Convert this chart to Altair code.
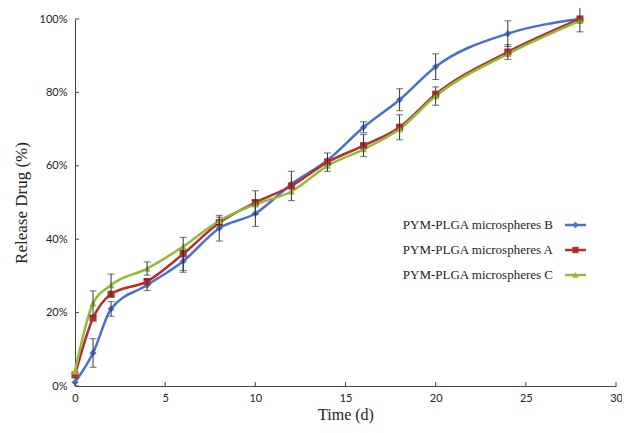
import altair as alt
import pandas as pd

time = [0, 1, 2, 4, 6, 8, 10, 12, 14, 16, 18, 20, 24, 28]
series_names = ["PYM-PLGA microspheres B", "PYM-PLGA microspheres A", "PYM-PLGA microspheres C"]
values_B = [1, 9, 21, 27.5, 34, 43, 47, 55, 61.5, 70.5, 78, 87, 96, 100]
values_A = [3, 18.5, 25, 28.5, 36, 44.5, 50, 54.5, 61, 65.5, 70.5, 79.5, 91, 100]
values_C = [4, 22.5, 27.5, 32, 38, 45, 49.5, 53, 60, 64.5, 70, 79, 90.5, 99.5]
err_B = [0, 3.9, 2, 1.5, 3, 3.5, 3.5, 0, 0, 1.5, 3, 3.5, 3.5, 0]
err_A = [0, 0, 0, 0, 4.5, 0, 3.2, 4, 2.5, 3, 3.4, 0, 2, 3.5]
err_C = [0, 3.4, 3, 1.8, 0, 1, 0, 0, 0, 0, 0, 2.5, 0, 0]
colors = ["#4a6fcc", "#b32f2f", "#8fbd3a"]
shapes = ["diamond", "square", "triangle-up"]
x_ticks = [0, 5, 10, 15, 20, 25, 30]
y_ticks = [0, 20, 40, 60, 80, 100]

rows = []
for name, vals, errs in zip(series_names, [values_B, values_A, values_C], [err_B, err_A, err_C]):
    for t, v, e in zip(time, vals, errs):
        rows.append({"time": t, "series": name, "value": v, "err": e, "lo": v - e, "hi": v + e})
df = pd.DataFrame(rows)

W, H = 541, 367
serif = "Liberation Serif"
tickfont = "Lato"

xs = alt.Scale(domain=[0, 30])
ys = alt.Scale(domain=[0, 100])
color = alt.Color("series:N", scale=alt.Scale(domain=series_names, range=colors), legend=None)
shape = alt.Shape("series:N", scale=alt.Scale(domain=series_names, range=shapes), legend=None)

base = alt.Chart(df)

lines = base.mark_line(interpolate="monotone", strokeWidth=2.5).encode(
    x=alt.X("time:Q", scale=xs, axis=alt.Axis(values=x_ticks, title="Time (d)", grid=False, ticks=False,
                                               domainColor="#444", labelFont=tickfont, labelFontSize=11,
                                               labelColor="#222", labelPadding=6, labelFlush=False,
                                               titleFont=serif,
                                               titleFontSize=16, titleFontWeight="normal", titleColor="#222",
                                               titlePadding=3)),
    y=alt.Y("value:Q", scale=ys, axis=alt.Axis(values=y_ticks, title="Release Drug (%)", grid=False, ticks=False,
                                                domainColor="#444", labelFont=tickfont, labelFontSize=11,
                                                labelColor="#222", labelPadding=8, labelFlush=False,
                                                labelExpr="datum.value + '%'", titleFont=serif,
                                                titleFontSize=17, titleFontWeight="normal", titleColor="#222",
                                                titlePadding=9)),
    color=color,
    detail="series:N",
)

points = base.mark_point(filled=True, size=50, opacity=1).encode(
    x=alt.X("time:Q", scale=xs), y=alt.Y("value:Q", scale=ys), color=color, shape=shape
)

eb = base.transform_filter("datum.err > 0")
err_rules = eb.mark_rule(color="#333", strokeWidth=1).encode(
    x=alt.X("time:Q", scale=xs), y=alt.Y("lo:Q", scale=ys), y2="hi:Q"
)
cap_lo = eb.mark_tick(color="#333", orient="horizontal", size=7, thickness=1).encode(
    x=alt.X("time:Q", scale=xs), y=alt.Y("lo:Q", scale=ys)
)
cap_hi = eb.mark_tick(color="#333", orient="horizontal", size=7, thickness=1).encode(
    x=alt.X("time:Q", scale=xs), y=alt.Y("hi:Q", scale=ys)
)

xt = alt.Chart(pd.DataFrame({"t": x_ticks})).mark_rule(color="#444").encode(
    x=alt.X("t:Q", scale=xs), y=alt.value(H), y2=alt.value(H - 4)
)
yt = alt.Chart(pd.DataFrame({"t": y_ticks})).mark_rule(color="#444").encode(
    y=alt.Y("t:Q", scale=ys), x=alt.value(0), x2=alt.value(4)
)

# legend (inside plot, labels left of symbols)
leg_layers = []
for i, (name, c, s) in enumerate(zip(series_names, colors, shapes)):
    ld = alt.Chart(pd.DataFrame({"series": [name]}))
    yy = 206 + 25 * i
    leg_layers.append(ld.mark_text(align="right", baseline="middle", font=serif, fontSize=13, color="#222").encode(
        text="series:N", x=alt.value(478), y=alt.value(yy)))
    leg_layers.append(ld.mark_rule(color=c, strokeWidth=2.5).encode(
        x=alt.value(490), x2=alt.value(511), y=alt.value(yy)))
    leg_layers.append(ld.mark_point(filled=True, size=40, opacity=1, color=c, shape=s).encode(
        x=alt.value(500.5), y=alt.value(yy)))

chart = alt.layer(lines, points, err_rules, cap_lo, cap_hi, xt, yt, *leg_layers).properties(
    width=W, height=H,
    autosize=alt.AutoSizeParams(type="none"),
    padding={"left": 67, "top": 11, "right": 6, "bottom": 38},
    background="white",
).configure_view(stroke=None)

chart.save("out.html", embed_options={"renderer": "svg", "actions": False})
